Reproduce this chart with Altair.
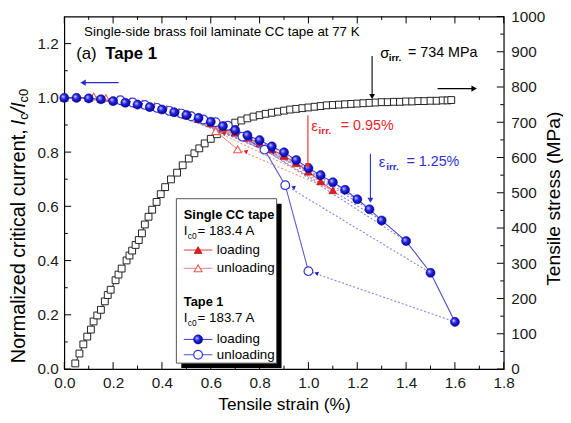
import altair as alt
import pandas as pd

F = "Liberation Sans"
W, H = 445, 357

# ---------------- data ----------------
# stress-strain curve (right axis, MPa)
SS_STRAIN = [0.045, 0.062, 0.078, 0.094, 0.109, 0.120, 0.135, 0.150, 0.166, 0.178,
             0.190, 0.210, 0.222, 0.235, 0.255, 0.267, 0.278, 0.292, 0.305, 0.318,
             0.330, 0.345, 0.360, 0.378, 0.395, 0.413, 0.437, 0.462, 0.485, 0.510,
             0.533, 0.553, 0.575, 0.600, 0.625, 0.648, 0.673, 0.700, 0.725, 0.750,
             0.775, 0.800, 0.825, 0.850, 0.875, 0.900, 0.925, 0.950, 0.975, 1.000,
             1.025, 1.050, 1.075, 1.100, 1.125, 1.150, 1.175, 1.200, 1.225, 1.250,
             1.275, 1.300, 1.325, 1.350, 1.375, 1.400, 1.425, 1.450, 1.475, 1.500,
             1.525, 1.550, 1.570, 1.585]
SS_STRESS = [16, 44, 70, 92, 112, 135, 152, 168, 192, 210,
             225, 252, 268, 285, 308, 322, 336, 352, 366, 385,
             410, 432, 452, 474, 496, 516, 538, 557, 578, 597,
             612, 626, 640, 653, 666, 679, 689, 699, 705, 711,
             716, 720, 724, 727, 730, 733, 736, 738, 740, 742,
             744, 746, 748, 749, 750, 751, 752, 753, 754, 755,
             756, 757, 757, 758, 758, 759, 759, 760, 760, 761,
             761, 762, 762, 763]

# Tape 1 (blue)
BL_STRAIN = [0.00, 0.05, 0.10, 0.15, 0.20, 0.25, 0.30, 0.35, 0.40, 0.45, 0.50, 0.55,
             0.60, 0.65, 0.70, 0.75, 0.80, 0.85, 0.90, 0.95, 1.00, 1.05, 1.10, 1.15,
             1.20, 1.25, 1.30, 1.40, 1.50, 1.60]
BL_IC = [1.000, 1.000, 0.998, 0.995, 0.988, 0.982, 0.975, 0.966, 0.957, 0.947, 0.937, 0.926,
         0.912, 0.896, 0.881, 0.862, 0.844, 0.821, 0.799, 0.771, 0.741, 0.715, 0.689, 0.661,
         0.626, 0.589, 0.548, 0.472, 0.355, 0.174]
BU_STRAIN = [0.23, 0.28, 0.33, 0.38, 0.43, 0.48, 0.52, 0.57, 0.62, 0.67, 0.73, 0.82, 0.905, 1.00]
BU_IC = [0.991, 0.983, 0.974, 0.963, 0.952, 0.942, 0.932, 0.920, 0.910, 0.897, 0.857, 0.809, 0.678, 0.361]
BU_FROM = [0.80, 0.85, 0.90, 0.95, 1.00, 1.05, 1.10, 1.15, 1.20, 1.25, 1.30, 1.40, 1.50, 1.60]

# Single CC tape (red)
RL_STRAIN = [0.00, 0.05, 0.10, 0.15, 0.20, 0.25, 0.30, 0.35, 0.40, 0.45, 0.50, 0.55,
             0.60, 0.65, 0.70, 0.75, 0.80, 0.85, 0.90, 0.95, 1.00, 1.05, 1.10]
RL_IC = [1.000, 1.002, 1.000, 0.996, 0.990, 0.984, 0.977, 0.968, 0.958, 0.947, 0.935, 0.922,
         0.906, 0.890, 0.872, 0.853, 0.832, 0.810, 0.786, 0.760, 0.728, 0.692, 0.659]
RU_STRAIN = [0.12, 0.17, 0.22, 0.27, 0.32, 0.37, 0.42, 0.47, 0.52, 0.57, 0.62, 0.71]
RU_IC = [1.005, 0.999, 0.992, 0.986, 0.978, 0.969, 0.959, 0.948, 0.935, 0.919, 0.877, 0.810]
RU_FROM = [0.55, 0.60, 0.65, 0.70, 0.75, 0.80, 0.85, 0.90, 0.95, 1.00, 1.05, 1.10]

X_MAJOR = [0.0, 0.2, 0.4, 0.6, 0.8, 1.0, 1.2, 1.4, 1.6, 1.8]
X_MINOR = [0.1, 0.3, 0.5, 0.7, 0.9, 1.1, 1.3, 1.5, 1.7]
Y_MAJOR = [0.0, 0.2, 0.4, 0.6, 0.8, 1.0, 1.2]
Y_MINOR = [0.1, 0.3, 0.5, 0.7, 0.9, 1.1]
R_MAJOR = [0, 100, 200, 300, 400, 500, 600, 700, 800, 900, 1000]
R_MINOR = [50, 150, 250, 350, 450, 550, 650, 750, 850, 950]

# ---------------- tables ----------------
df_ss = pd.DataFrame({"strain": SS_STRAIN, "stress": SS_STRESS})
df_bl = pd.DataFrame({"strain": BL_STRAIN, "ic": BL_IC})
df_bu = pd.DataFrame({"strain": BU_STRAIN, "ic": BU_IC})
df_rl = pd.DataFrame({"strain": RL_STRAIN, "ic": RL_IC})
df_ru = pd.DataFrame({"strain": RU_STRAIN, "ic": RU_IC})


def connectors(ls, lic, us, uic, frm):
    look = dict(zip(ls, lic))
    rows = []
    for i, (s, ic, f) in enumerate(zip(us, uic, frm)):
        rows.append({"pair": i, "strain": f, "ic": look[f]})
        rows.append({"pair": i, "strain": s, "ic": ic})
    return pd.DataFrame(rows)


df_bc = connectors(BL_STRAIN, BL_IC, BU_STRAIN, BU_IC, BU_FROM)
df_rc = connectors(RL_STRAIN, RL_IC, RU_STRAIN, RU_IC, RU_FROM)
DUMMY = pd.DataFrame({"a": [0]})

# ---------------- scales / axes ----------------
xs = alt.Scale(domain=[0, 1.8], nice=False, zero=False)
xaxis = alt.Axis(values=X_MAJOR, format=".1f", ticks=False, domain=False, grid=False,
                 labelFontSize=15.5, labelPadding=7, labelFlush=False, title=None)
ys = alt.Scale(domain=[0, 1.3], nice=False, zero=False)
yaxis = alt.Axis(values=Y_MAJOR, format=".1f", ticks=False, domain=False, grid=False,
                 labelFontSize=15.5, labelPadding=6, title=None)
rs = alt.Scale(domain=[0, 1000], nice=False, zero=False)
raxis = alt.Axis(orient="right", values=R_MAJOR, format="d", ticks=False, domain=False,
                 grid=False, labelFontSize=15.5, labelPadding=7, title=None)


def X(f):
    return alt.X(f"{f}:Q", scale=xs, axis=xaxis)


def Y(f):
    return alt.Y(f"{f}:Q", scale=ys, axis=yaxis)


def R(f):
    return alt.Y(f"{f}:Q", scale=rs, axis=raxis)


def txt(s, x, y, size=13.5, color="black", weight="normal", style="normal",
        align="left", angle=0):
    return alt.Chart(DUMMY).mark_text(
        text=s, font=F, fontSize=size, color=color, fontWeight=weight, fontStyle=style,
        align=align, baseline="middle", angle=angle
    ).encode(x=alt.value(x), y=alt.value(y))


def seg(x1, y1, x2, y2, color, width=1.2):
    return alt.Chart(DUMMY).mark_rule(color=color, strokeWidth=width).encode(
        x=alt.value(x1), y=alt.value(y1), x2=alt.value(x2), y2=alt.value(y2))


def head(x, y, shape, color, size=45):
    return alt.Chart(DUMMY).mark_point(shape=shape, filled=True, color=color, size=size,
                                       opacity=1).encode(x=alt.value(x), y=alt.value(y))


def sym(x, y, shape, fill, stroke, size=75, sw=1.0):
    return alt.Chart(DUMMY).mark_point(shape=shape, filled=True, fill=fill, stroke=stroke,
                                       strokeWidth=sw, size=size, opacity=1).encode(
        x=alt.value(x), y=alt.value(y))


BLUE_FILL = {"gradient": "radial",
             "stops": [{"offset": 0, "color": "#c9ccff"},
                       {"offset": 0.45, "color": "#2424e6"},
                       {"offset": 1, "color": "#00008a"}],
             "x1": 0.35, "y1": 0.35, "r1": 0, "x2": 0.45, "y2": 0.45, "r2": 0.6}


# ---------------- ticks (inward) ----------------
def xticks(vals, length):
    d = pd.DataFrame({"t": vals})
    b = alt.Chart(d).mark_rule(color="black", strokeWidth=1).encode(
        x=X("t"), y=alt.value(H), y2=alt.value(H - length))
    t = alt.Chart(d).mark_rule(color="black", strokeWidth=1).encode(
        x=X("t"), y=alt.value(0), y2=alt.value(length))
    return [b, t]


def yticks(vals, length):
    d = pd.DataFrame({"t": vals})
    return alt.Chart(d).mark_rule(color="black", strokeWidth=1).encode(
        y=Y("t"), x=alt.value(0), x2=alt.value(length))


def rticks(vals, length):
    d = pd.DataFrame({"t": vals})
    return alt.Chart(d).mark_rule(color="black", strokeWidth=1).encode(
        y=R("t"), x=alt.value(W), x2=alt.value(W - length))


# ---------------- right group (stress) ----------------
ss_line = alt.Chart(df_ss).mark_line(color="#333333", strokeWidth=1).encode(
    x=X("strain"), y=R("stress"))
ss_pts = alt.Chart(df_ss).mark_point(shape="square", filled=True, fill="white",
                                     stroke="#222222", strokeWidth=1, size=48,
                                     opacity=1).encode(x=X("strain"), y=R("stress"))
right_group = alt.layer(ss_line, ss_pts, rticks(R_MAJOR, 7), rticks(R_MINOR, 3.5))

# ---------------- left group (Ic) ----------------
b_conn = alt.Chart(df_bc).mark_line(color="#8c8ce8", strokeWidth=1.2, strokeDash=[2, 2]).encode(
    x=X("strain"), y=Y("ic"), detail="pair:N")
r_conn = alt.Chart(df_rc).mark_line(color="#f2a27c", strokeWidth=1.2, strokeDash=[2, 2]).encode(
    x=X("strain"), y=Y("ic"), detail="pair:N")

r_load_line = alt.Chart(df_rl).mark_line(color="#e23c3c", strokeWidth=1).encode(
    x=X("strain"), y=Y("ic"))
r_un_line = alt.Chart(df_ru).mark_line(color="#f07a7a", strokeWidth=1).encode(
    x=X("strain"), y=Y("ic"))
r_load_pts = alt.Chart(df_rl).mark_point(shape="triangle-up", filled=True, fill="#e51a1a",
                                         stroke="#b00000", strokeWidth=0.6, size=65,
                                         opacity=1).encode(x=X("strain"), y=Y("ic"))
r_un_pts = alt.Chart(df_ru).mark_point(shape="triangle-up", filled=True, fill="white",
                                       stroke="#f05a5a", strokeWidth=1.1, size=65,
                                       opacity=1).encode(x=X("strain"), y=Y("ic"))
r_heads = alt.Chart(df_ru).mark_point(shape="triangle-left", filled=True, color="#e02020",
                                      size=22, xOffset=8, yOffset=2, angle=20,
                                      opacity=1).encode(x=X("strain"), y=Y("ic"))

b_load_line = alt.Chart(df_bl).mark_line(color="#4a4ad2", strokeWidth=1.1).encode(
    x=X("strain"), y=Y("ic"))
b_un_line = alt.Chart(df_bu).mark_line(color="#5a5ad8", strokeWidth=1.1).encode(
    x=X("strain"), y=Y("ic"))
b_un_pts = alt.Chart(df_bu).mark_point(shape="circle", filled=True, fill="white",
                                       stroke="#3838d6", strokeWidth=1.2, size=78,
                                       opacity=1).encode(x=X("strain"), y=Y("ic"))
b_heads = alt.Chart(df_bu).mark_point(shape="triangle-left", filled=True, color="#2020c8",
                                      size=22, xOffset=8, yOffset=2, angle=20,
                                      opacity=1).encode(x=X("strain"), y=Y("ic"))
b_load_pts = alt.Chart(df_bl).mark_point(shape="circle", filled=True, fill=BLUE_FILL,
                                         stroke="#00008a", strokeWidth=0.5, size=85,
                                         opacity=1).encode(x=X("strain"), y=Y("ic"))

# annotations (pixel positions inside the plot area)
ann = [
    txt("Single-side brass foil laminate CC tape at 77 K", 20, 16, size=13.5),
    txt("(a) ", 12, 38, size=17),
    txt("Tape 1", 41.5, 38, size=17, weight="bold"),
    seg(18, 67, 55, 67, "#2a2ad0", 1.4), head(19, 67, "triangle-left", "#2a2ad0", 40),
    seg(378, 73, 416, 73, "black", 1.4), head(415, 73, "triangle-right", "black", 40),
    txt("σ", 320, 37.5, size=15),
    txt("irr.", 328.5, 42, size=10, weight="bold"),
    txt("= 734 MPa", 348, 37.5, size=14.5),
    seg(311.7, 40, 311.7, 81, "black", 1.1), head(311.7, 81, "triangle-down", "black", 35),
    txt("ε", 250, 111, size=15, color="#e5262a"),
    txt("irr.", 257.5, 115.5, size=10, weight="bold", color="#e5262a"),
    txt("= 0.95%", 280, 111, size=14.5, color="#e5262a"),
    seg(246.7, 100, 246.7, 151, "#e5262a", 1.1), head(246.7, 151, "triangle-down", "#e5262a", 35),
    txt("ε", 318.5, 147.5, size=15, color="#2f2fcf"),
    txt("irr.", 326, 152, size=10, weight="bold", color="#2f2fcf"),
    txt("= 1.25%", 346.5, 147.5, size=14.5, color="#2f2fcf"),
    seg(310, 139, 310, 186, "#2f2fcf", 1.1), head(310, 186, "triangle-down", "#2f2fcf", 35),
]

# legend
LX1, LX2, LY1, LY2 = 113.5, 215, 184.5, 351
legend = [
    alt.Chart(DUMMY).mark_rect(color="black").encode(
        x=alt.value(LX1 + 5), x2=alt.value(LX2 + 5), y=alt.value(LY1 + 5), y2=alt.value(LY2 + 5)),
    alt.Chart(DUMMY).mark_rect(fill="white", stroke="#555555", strokeWidth=1).encode(
        x=alt.value(LX1), x2=alt.value(LX2), y=alt.value(LY1), y2=alt.value(LY2)),
    txt("Single CC tape", 121, 201, size=13, weight="bold"),
    txt("I", 121, 217.5, size=13.5),
    txt("c0", 125, 222, size=8.5),
    txt("= 183.4 A", 135, 217.5, size=13.5),
    seg(121, 236.5, 150, 236.5, "#e23c3c", 1),
    sym(135.5, 236.5, "triangle-up", "#e51a1a", "#b00000", 65, 0.6),
    txt("loading", 154.5, 236.5, size=13.5),
    seg(121, 255, 150, 255, "#f07a7a", 1),
    sym(135.5, 255, "triangle-up", "white", "#f05a5a", 65, 1.1),
    txt("unloading", 154.5, 255, size=13.5),
    txt("Tape 1", 121, 289, size=13, weight="bold"),
    txt("I", 121, 305.5, size=13.5),
    txt("c0", 125, 310, size=8.5),
    txt("= 183.7 A", 135, 305.5, size=13.5),
    seg(121, 327, 150, 327, "#4a4ad2", 1.1),
    sym(135.5, 327, "circle", BLUE_FILL, "#00008a", 85, 0.5),
    txt("loading", 154.5, 327, size=13.5),
    seg(121, 342.5, 150, 342.5, "#5a5ad8", 1.1),
    sym(135.5, 342.5, "circle", "white", "#3838d6", 78, 1.2),
    txt("unloading", 154.5, 342.5, size=13.5),
]

# axis titles
titles = [
    txt("Normalized critical current, ", -46, 351, size=20, angle=270),
    txt("I", -46, 110, size=20, style="italic", angle=270),
    txt("c", -40.5, 104.5, size=13, angle=270),
    txt("/", -46, 98, size=20, style="italic", angle=270),
    txt("I", -46, 92.5, size=20, style="italic", angle=270),
    txt("c0", -40.5, 87, size=13, angle=270),
    txt("Tensile stress (MPa)", 496, 184.5, size=19.5, align="center", angle=270),
    txt("Tensile strain (%)", 223, 393, size=17.5, align="center"),
]

left_layers = (xticks(X_MAJOR, 7) + xticks(X_MINOR, 3.5) +
               [yticks(Y_MAJOR, 7), yticks(Y_MINOR, 3.5),
                b_conn, r_conn, r_load_line, r_un_line, r_load_pts, r_un_pts, r_heads,
                b_load_line, b_un_line, b_un_pts, b_heads, b_load_pts] +
               ann + legend + titles)
left_group = alt.layer(*left_layers)

chart = alt.layer(right_group, left_group).resolve_scale(y="independent").properties(
    width=W, height=H,
    autosize=alt.AutoSizeParams(type="none"),
    padding={"left": 57, "top": 6, "right": 60, "bottom": 50},
).configure_view(stroke="black", strokeWidth=1.2).configure_axis(
    labelFont=F, titleFont=F, labelColor="#1a1a1a")

chart.save("out.html", embed_options={"renderer": "svg", "actions": False})
